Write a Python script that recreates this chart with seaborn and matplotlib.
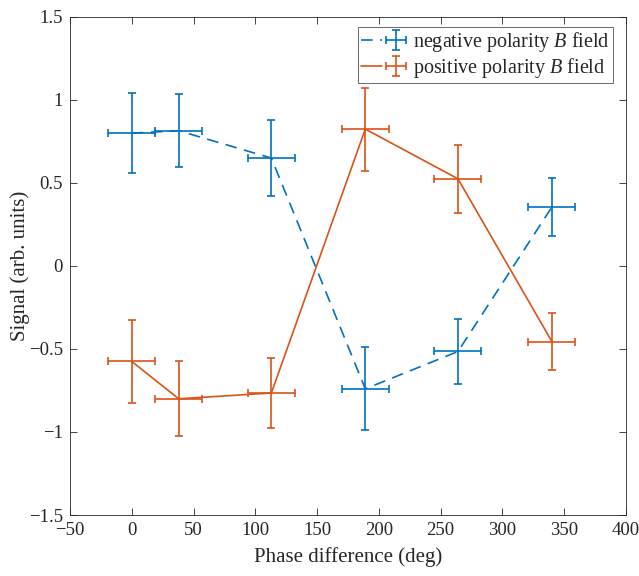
import numpy as np
import pandas as pd
import matplotlib
matplotlib.use("Agg")
import matplotlib.pyplot as plt
import seaborn as sns
from matplotlib.legend_handler import HandlerTuple

# ── Data ──────────────────────────────────────────────────────
phase = [0, 38, 113, 189, 264, 340]
phase_err = [19, 19, 19, 19, 19, 19]

neg_signal = [0.80, 0.815, 0.65, -0.74, -0.515, 0.355]
neg_err = [0.24, 0.22, 0.23, 0.25, 0.195, 0.175]

pos_signal = [-0.575, -0.80, -0.765, 0.825, 0.525, -0.455]
pos_err = [0.25, 0.225, 0.21, 0.25, 0.205, 0.17]

labels = ["negative polarity $B$ field", "positive polarity $B$ field"]
xticks = [-50, 0, 50, 100, 150, 200, 250, 300, 350, 400]
yticks = [-1.5, -1, -0.5, 0, 0.5, 1, 1.5]

BLUE = "#0072BD"
ORANGE = "#D95319"
GREY = "#262626"

# ── Style ─────────────────────────────────────────────────────
sns.set_theme(style="ticks")
plt.rcParams["font.family"] = ["Liberation Serif", "DejaVu Serif"]
plt.rcParams["mathtext.fontset"] = "custom"
plt.rcParams["mathtext.it"] = "Liberation Serif:italic"
plt.rcParams["mathtext.rm"] = "Liberation Serif"
plt.rcParams["axes.edgecolor"] = GREY
plt.rcParams["axes.linewidth"] = 0.6
plt.rcParams["xtick.color"] = GREY
plt.rcParams["ytick.color"] = GREY

df = pd.DataFrame({
    "phase": phase * 2,
    "signal": neg_signal + pos_signal,
    "series": [labels[0]] * len(phase) + [labels[1]] * len(phase),
})

fig = plt.figure(figsize=(6.39, 5.76), dpi=100)
ax = fig.add_axes([0.1095, 0.1059, 0.8702, 0.8646])

sns.lineplot(data=df, x="phase", y="signal", hue="series", style="series",
             palette=[BLUE, ORANGE], dashes=[(7, 4.5), ""], lw=1.2,
             legend=False, ax=ax, sort=False)

handles = []
for ln, y, yerr, color in zip(ax.get_lines(), [neg_signal, pos_signal],
                              [neg_err, pos_err], [BLUE, ORANGE]):
    eb = ax.errorbar(phase, y, xerr=phase_err, yerr=yerr, fmt="none",
                     ecolor=color, elinewidth=1.2, capsize=2.6, capthick=1.2)
    handles.append((ln, eb))

leg = ax.legend(handles, labels, loc="upper right", fontsize=14.5,
                bbox_to_anchor=(1 - 13 / 556, 1 - 10 / 498),
                handler_map={tuple: HandlerTuple(ndivide=None)},
                frameon=True, fancybox=False, borderaxespad=0,
                handlelength=2.3, handletextpad=0.3, borderpad=0.15,
                labelspacing=0.1)
leg.get_frame().set_edgecolor(GREY)
leg.get_frame().set_linewidth(0.6)

ax.set_xlim(-50, 400)
ax.set_ylim(-1.5, 1.5)
ax.set_xticks(xticks)
ax.set_yticks(yticks)
ax.set_yticklabels([f"{t:g}".replace("-", "\u2212") for t in yticks])
ax.set_xticklabels([f"{t:g}".replace("-", "\u2212") for t in xticks])
ax.tick_params(direction="in", top=True, right=True, length=5, width=0.6,
               labelsize=13.5, pad=5)
ax.set_xlabel("Phase difference (deg)", fontsize=15, color=GREY, labelpad=6)
ax.set_ylabel("Signal (arb. units)", fontsize=15, color=GREY, labelpad=-1)
for s in ax.spines.values():
    s.set_visible(True)

fig.savefig("out.png", dpi=100)
